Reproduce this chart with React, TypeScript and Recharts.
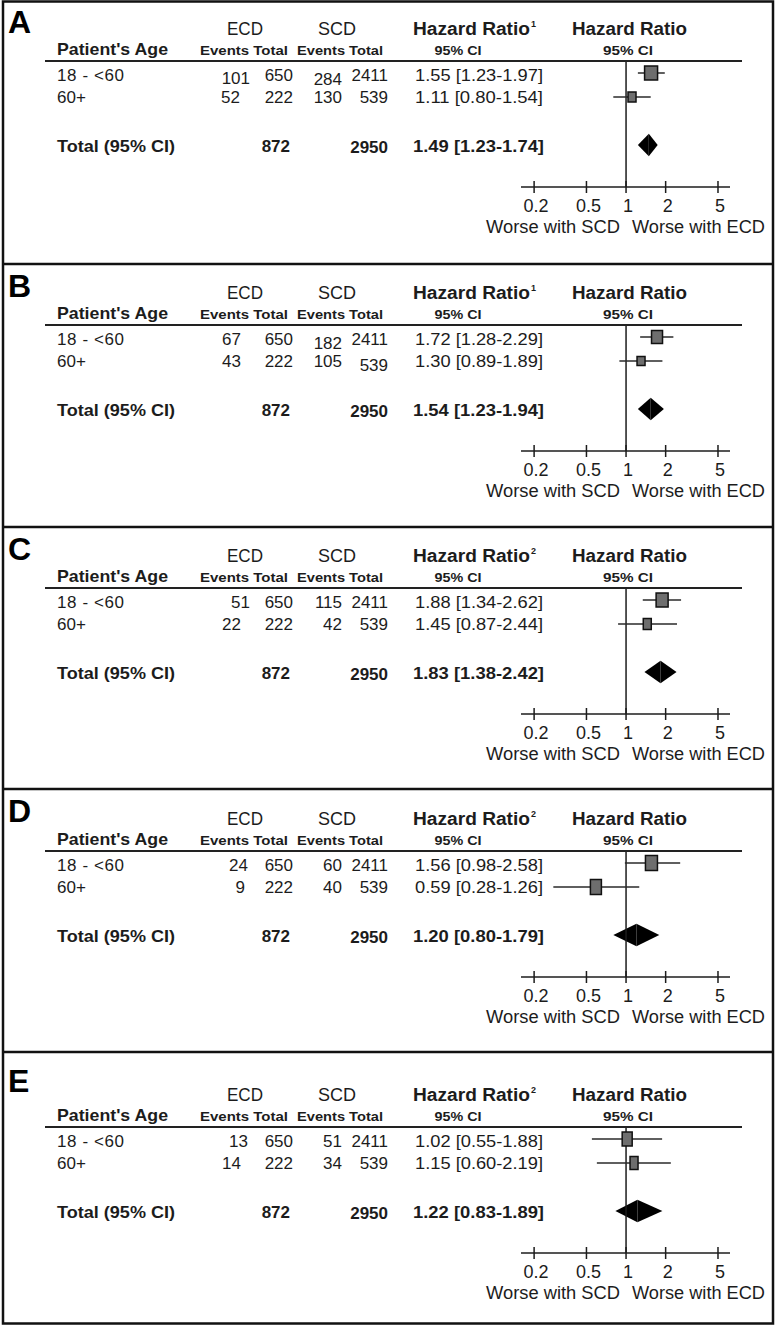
import React from 'react';
import { ComposedChart, XAxis, YAxis, Scatter, ErrorBar, ReferenceLine, ReferenceArea } from 'recharts';

// ---------------- data ----------------
const PANELS = ['A', 'B', 'C', 'D', 'E'];
const SUPERSCRIPT = ['1', '1', '2', '2', '2'];
const AGE_GROUPS = ["18 - <60", '60+'];
const ECD_TOTALS = [650, 222];
const SCD_TOTALS = [2411, 539];
const ECD_SUM = 872;
const SCD_SUM = 2950;
const ECD_EVENTS = [[101, 52], [67, 43], [51, 22], [24, 9], [13, 14]];
const SCD_EVENTS = [[284, 130], [182, 105], [115, 42], [60, 40], [51, 34]];
const HR = [[1.55, 1.11], [1.72, 1.30], [1.88, 1.45], [1.56, 0.59], [1.02, 1.15]];
const HR_LO = [[1.23, 0.80], [1.28, 0.89], [1.34, 0.87], [0.98, 0.28], [0.55, 0.60]];
const HR_HI = [[1.97, 1.54], [2.29, 1.89], [2.62, 2.44], [2.58, 1.26], [1.88, 2.19]];
const TOTAL_HR = [1.49, 1.54, 1.83, 1.20, 1.22];
const TOTAL_LO = [1.23, 1.23, 1.38, 0.80, 0.83];
const TOTAL_HI = [1.74, 1.94, 2.42, 1.79, 1.89];
const X_TICKS = [0.2, 0.5, 1, 2, 5];
const ROW_POS = [1, 2];
const TOTAL_POS = 4;

// ---------------- layout / style ----------------
const W = 777;
const PAGE_H = 1328;
const PANEL_TOP = [0, 264, 527, 789, 1052];
const PANEL_SHIFT = [0, 0, 0, 1, 14];
const LETTER_SHIFT = [0, 0, 0, 0, 7];
const BOX_SIZE = [
  [[13, 14], [8, 10]],
  [[11, 13], [8, 9]],
  [[12, 14], [8, 11]],
  [[12, 15], [11, 15]],
  [[10, 14], [8, 13]],
];
const ECD_EV_X = [[250, 240], [241, 241], [250, 241], [248, 245], [248, 241]];
// small vertical offsets of individual cells, as in the source figure: [ecdEv, ecdTot, scdEv, scdTot]
const CELL_DY = [
  [[3, 0, 4, 0], [0, 0, 0, 0]],
  [[0, 0, 4, 0], [0, 0, 0, 4]],
  [[0, 0, 0, 0], [0, 0, 0, 0]],
  [[0, 0, 0, 0], [0, 0, 0, 0]],
  [[0, 0, 0, 0], [0, 0, 0, 0]],
];
const X_DOMAIN = [0.159, 6.17];
const Y_DOMAIN = [0.5, 5.75];
const DIAMOND_HALF = 0.47;
const CHART_H = 250;
const PLOT_TOP = 61;
const PLOT_BOTTOM = 187;
const XAXIS_H = 40;
const F = '"Liberation Sans", Arial, sans-serif';
const INK = '#1c1c1c';

const fmt = (v: number) => v.toFixed(2);
const hrText = (h: number, lo: number, hi: number) => `${fmt(h)} [${fmt(lo)}-${fmt(hi)}]`;

const Tick = (props: any) => {
  const { x, y, payload } = props;
  return (
    <g>
      <line x1={x} x2={x} y1={y - 6} y2={y + 6} stroke={INK} strokeWidth={1.5} />
      <text x={x + 2} y={y + 25} textAnchor="middle" fontSize={18} fontFamily={F} fill={INK}>
        {String(payload.value)}
      </text>
    </g>
  );
};

const LeftHalf = (p: any) => {
  const { x, y, width, height } = p;
  return <polygon points={`${x},${y + height / 2} ${x + width},${y} ${x + width},${y + height}`} fill="#000" />;
};
const RightHalf = (p: any) => {
  const { x, y, width, height } = p;
  return <polygon points={`${x},${y} ${x + width},${y + height / 2} ${x},${y + height}`} fill="#000" />;
};

function PanelChart({ i }: { i: number }) {
  const rows = ROW_POS.map((pos, r) => ({
    x: HR[i][r],
    y: pos,
    row: r,
    err: [HR[i][r] - HR_LO[i][r], HR_HI[i][r] - HR[i][r]],
  }));
  const sizes = BOX_SIZE[i];
  const Box = (p: any) => {
    const { cx, cy, payload } = p;
    const [w, h] = sizes[payload.row];
    return <rect x={cx - w / 2} y={cy - h / 2} width={w} height={h} fill="#6e6e6e" stroke="#111" strokeWidth={1.5} />;
  };
  return (
    <div style={{ position: 'absolute', left: 0, top: PANEL_TOP[i] + PANEL_SHIFT[i], width: W, height: CHART_H }}>
      <ComposedChart
        width={W}
        height={CHART_H}
        margin={{ top: PLOT_TOP, bottom: CHART_H - PLOT_BOTTOM - XAXIS_H, left: 521, right: W - 730 }}
      >
        <XAxis
          type="number"
          dataKey="x"
          scale="log"
          domain={X_DOMAIN}
          allowDataOverflow
          ticks={X_TICKS}
          interval={0}
          tickSize={0}
          tickMargin={0}
          tickLine={false}
          tick={<Tick />}
          height={XAXIS_H}
          axisLine={{ stroke: INK, strokeWidth: 1.5 }}
        />
        <YAxis type="number" dataKey="y" domain={Y_DOMAIN} allowDataOverflow reversed hide width={0} />
        <ReferenceLine x={1} stroke={INK} strokeWidth={1.5} ifOverflow="visible" />
        <ReferenceArea
          x1={TOTAL_LO[i]}
          x2={TOTAL_HR[i]}
          y1={TOTAL_POS - DIAMOND_HALF}
          y2={TOTAL_POS + DIAMOND_HALF}
          shape={<LeftHalf />}
          ifOverflow="visible"
        />
        <ReferenceArea
          x1={TOTAL_HR[i]}
          x2={TOTAL_HI[i]}
          y1={TOTAL_POS - DIAMOND_HALF}
          y2={TOTAL_POS + DIAMOND_HALF}
          shape={<RightHalf />}
          ifOverflow="visible"
        />
        <Scatter data={rows} dataKey="y" shape={<Box />} isAnimationActive={false}>
          <ErrorBar dataKey="err" direction="x" width={0} stroke="#2a2a2a" strokeWidth={1.5} isAnimationActive={false} />
        </Scatter>
      </ComposedChart>
    </div>
  );
}

function PanelText({ i }: { i: number }) {
  const oy = PANEL_TOP[i] + PANEL_SHIFT[i];
  const t = (y: number) => oy + y;
  const common = { fontFamily: F, fill: INK };
  return (
    <g>
      <text x={8} y={PANEL_TOP[i] + LETTER_SHIFT[i] + 33} fontSize={32} fontWeight={700} {...common} fill="#000">
        {PANELS[i]}
      </text>
      <text x={245} y={t(35)} textAnchor="middle" fontSize={18} textLength={36} lengthAdjust="spacingAndGlyphs" {...common}>ECD</text>
      <text x={337} y={t(35)} textAnchor="middle" fontSize={18} textLength={38} lengthAdjust="spacingAndGlyphs" {...common}>SCD</text>
      <text x={57} y={t(55)} fontSize={17} fontWeight={700} textLength={111} lengthAdjust="spacingAndGlyphs" {...common}>Patient's Age</text>
      <text x={200} y={t(55)} fontSize={13.5} fontWeight={700} textLength={88} lengthAdjust="spacingAndGlyphs" {...common}>Events Total</text>
      <text x={297} y={t(55)} fontSize={13.5} fontWeight={700} textLength={86} lengthAdjust="spacingAndGlyphs" {...common}>Events Total</text>
      <text x={413} y={t(35)} fontSize={18} fontWeight={700} textLength={117} lengthAdjust="spacingAndGlyphs" {...common}>Hazard Ratio</text>
      <text x={531} y={t(27)} fontSize={9} fontWeight={700} {...common}>{SUPERSCRIPT[i]}</text>
      <text x={458} y={t(55)} textAnchor="middle" fontSize={13} fontWeight={700} textLength={47} lengthAdjust="spacingAndGlyphs" {...common}>95% CI</text>
      <text x={572} y={t(35)} fontSize={18} fontWeight={700} textLength={115} lengthAdjust="spacingAndGlyphs" {...common}>Hazard Ratio</text>
      <text x={628} y={t(55)} textAnchor="middle" fontSize={13} fontWeight={700} textLength={50} lengthAdjust="spacingAndGlyphs" {...common}>95% CI</text>
      <line x1={45} x2={742} y1={t(61)} y2={t(61)} stroke="#222" strokeWidth={2} />
      {AGE_GROUPS.map((g, r) => {
        const by = t(81 + r * 22);
        const dy = CELL_DY[i][r];
        return (
          <g key={g}>
            {r === 0 ? (
              <text x={57} y={by} fontSize={17} textLength={67} lengthAdjust="spacing" {...common}>{g}</text>
            ) : (
              <text x={57} y={by} fontSize={17} {...common}>{g}</text>
            )}
            <text x={ECD_EV_X[i][r]} y={by + dy[0]} textAnchor="end" fontSize={17} {...common}>{ECD_EVENTS[i][r]}</text>
            <text x={293} y={by + dy[1]} textAnchor="end" fontSize={17} {...common}>{ECD_TOTALS[r]}</text>
            <text x={342} y={by + dy[2]} textAnchor="end" fontSize={17} {...common}>{SCD_EVENTS[i][r]}</text>
            <text x={388} y={by + dy[3]} textAnchor="end" fontSize={17} {...common}>{SCD_TOTALS[r]}</text>
            <text x={415} y={by} fontSize={17} textLength={128} lengthAdjust="spacingAndGlyphs" {...common}>
              {hrText(HR[i][r], HR_LO[i][r], HR_HI[i][r])}
            </text>
          </g>
        );
      })}
      <text x={57} y={t(152)} fontSize={17} fontWeight={700} textLength={118} lengthAdjust="spacingAndGlyphs" {...common}>Total (95% CI)</text>
      <text x={290} y={t(152)} textAnchor="end" fontSize={17} fontWeight={700} {...common}>{ECD_SUM}</text>
      <text x={388} y={t(153)} textAnchor="end" fontSize={17} fontWeight={700} {...common}>{SCD_SUM}</text>
      <text x={413} y={t(152)} fontSize={17} fontWeight={700} textLength={131} lengthAdjust="spacingAndGlyphs" {...common}>
        {hrText(TOTAL_HR[i], TOTAL_LO[i], TOTAL_HI[i])}
      </text>
      <text x={486} y={t(233)} fontSize={18} textLength={134} lengthAdjust="spacingAndGlyphs" {...common}>Worse with SCD</text>
      <text x={632} y={t(233)} fontSize={18} textLength={133} lengthAdjust="spacingAndGlyphs" {...common}>Worse with ECD</text>
    </g>
  );
}

export default function App() {
  return (
    <div style={{ position: 'absolute', left: 0, top: 0, width: W, height: PAGE_H, background: '#fff', overflow: 'hidden' }}>
      {PANELS.map((_, i) => (
        <PanelChart key={i} i={i} />
      ))}
      <svg width={W} height={PAGE_H} style={{ position: 'absolute', left: 0, top: 0, pointerEvents: 'none' }}>
        <rect x={3} y={1.5} width={770} height={1322} fill="none" stroke="#111" strokeWidth={2.5} />
        {PANEL_TOP.slice(1).map((y) => (
          <line key={y} x1={3} x2={773} y1={y} y2={y} stroke="#111" strokeWidth={2.5} />
        ))}
        {PANELS.map((_, i) => (
          <PanelText key={i} i={i} />
        ))}
      </svg>
    </div>
  );
}
